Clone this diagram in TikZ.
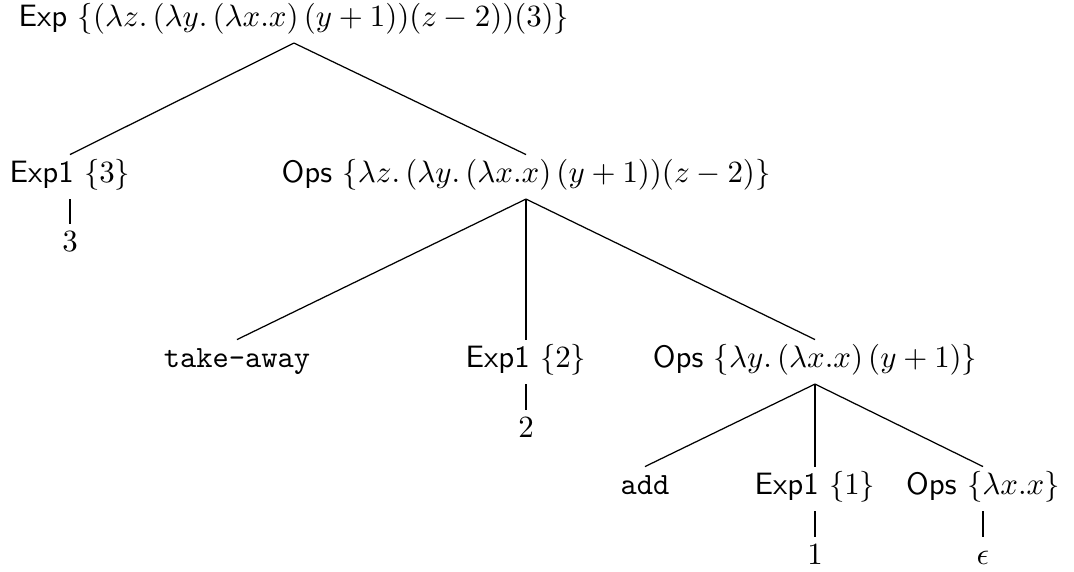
\documentclass[tikz,border=0pt]{standalone}
\usepackage{amsmath}
\begin{document}
\begin{tikzpicture}[x=0.3236pt,y=-0.3236pt,
  tn/.style={anchor=base,inner xsep=0pt,inner ysep=1pt,text height=8pt,text depth=4pt},
  edge/.style={draw,line width=0.4pt}]
\useasboundingbox (0,0) rectangle (1074,572);
\node[tn] (root) at (294,27) {\textsf{Exp} $\{(\lambda z.\,(\lambda y.\,(\lambda x.x)\,(y+1))(z-2))(3)\}$};
\node[tn] (e3) at (70,183) {\textsf{Exp1} $\{3\}$};
\node[tn] (n3) at (70,252) {$3$};
\node[tn] (o1) at (526,183) {\textsf{Ops} $\{\lambda z.\,(\lambda y.\,(\lambda x.x)\,(y+1))(z-2)\}$};
\node[tn] (take) at (237,368) {\texttt{take-away}};
\node[tn] (e2) at (526,368) {\textsf{Exp1} $\{2\}$};
\node[tn] (n2) at (526,438) {$2$};
\node[tn] (o2) at (815,368) {\textsf{Ops} $\{\lambda y.\,(\lambda x.x)\,(y+1)\}$};
\node[tn] (add) at (645,495) {\texttt{add}};
\node[tn] (e1) at (815,495) {\textsf{Exp1} $\{1\}$};
\node[tn] (n1) at (815,565) {$1$};
\node[tn] (o3) at (983,495) {\textsf{Ops} $\{\lambda x.x\}$};
\node[tn] (eps) at (983,565) {$\epsilon$};
\draw[edge] (root.south) -- (e3.north);
\draw[edge] (root.south) -- (o1.north);
\draw[edge] (e3.south) -- (n3.north);
\draw[edge] (o1.south) -- (take.north);
\draw[edge] (o1.south) -- (e2.north);
\draw[edge] (o1.south) -- (o2.north);
\draw[edge] (e2.south) -- (n2.north);
\draw[edge] (o2.south) -- (add.north);
\draw[edge] (o2.south) -- (e1.north);
\draw[edge] (o2.south) -- (o3.north);
\draw[edge] (o3.south) -- (eps.north);
\draw[edge] (e1.south) -- (n1.north);
\end{tikzpicture}
\end{document}
